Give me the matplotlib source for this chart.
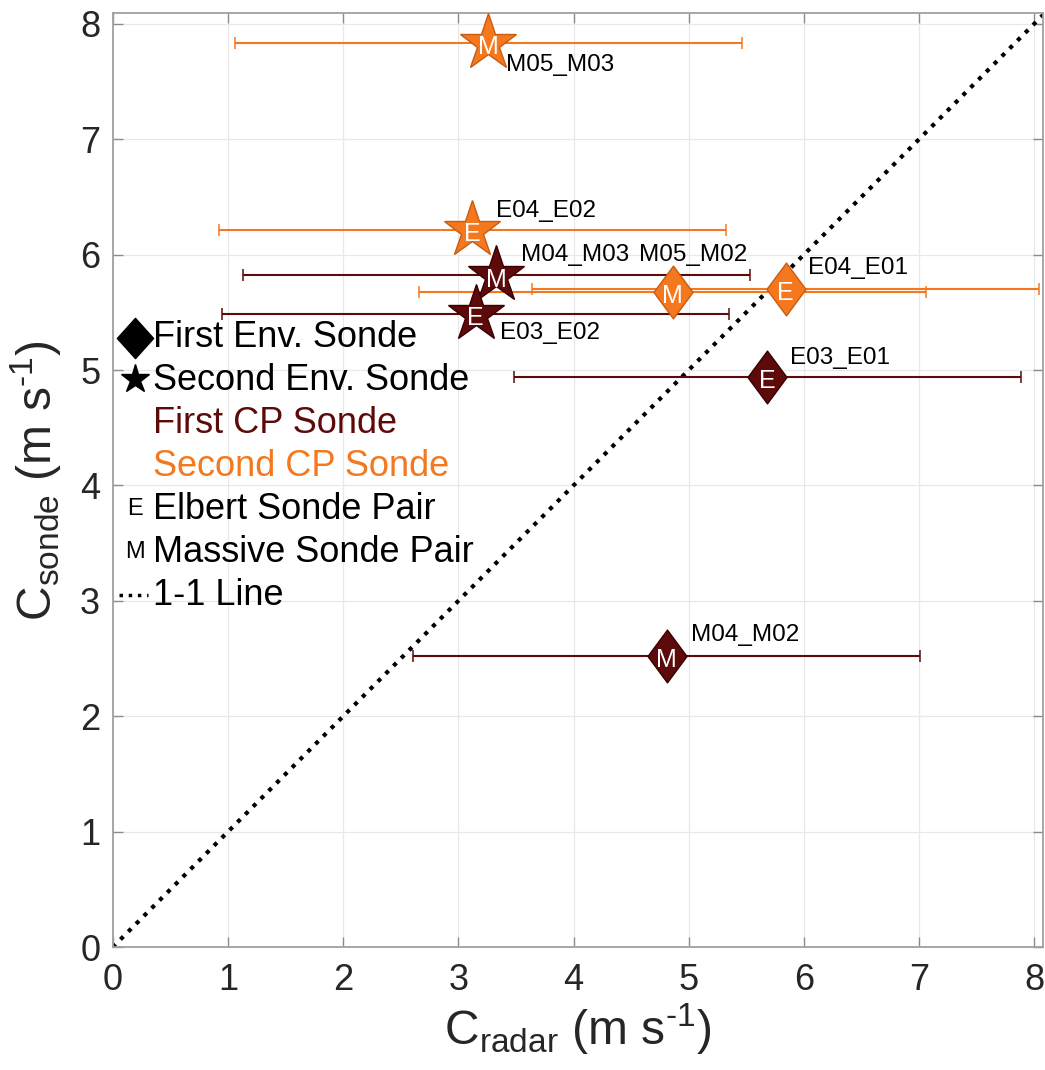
import numpy as np
import matplotlib.pyplot as plt
from matplotlib.path import Path

plt.rcParams['font.family'] = ['Liberation Sans', 'DejaVu Sans']
plt.rcParams['mathtext.fontset'] = 'custom'
plt.rcParams['mathtext.rm'] = 'Liberation Sans'
plt.rcParams['mathtext.it'] = 'Liberation Sans:italic'

# Sonde pair comparisons (CP sonde _ environment sonde)
pairs = ['M05_M03', 'E04_E02', 'M04_M03', 'M05_M02',
         'E04_E01', 'E03_E02', 'E03_E01', 'M04_M02']
c_radar = [3.26, 3.12, 3.33, 4.86, 5.84, 3.15, 5.68, 4.81]
c_sonde = [7.83, 6.21, 5.82, 5.68, 5.70, 5.485, 4.94, 2.527]
radar_err = [2.2, 2.2, 2.2, 2.2, 2.2, 2.2, 2.2, 2.2]
cp_sonde = ['second', 'second', 'first', 'second',
            'second', 'first', 'first', 'first']
env_sonde = ['second', 'second', 'second', 'first',
             'first', 'second', 'first', 'first']
site = ['M', 'E', 'M', 'M', 'E', 'E', 'E', 'M']

# label offsets from each point (data units)
label_dx = [0.155, 0.205, 0.215, -0.29, 0.196, 0.21, 0.20, 0.21]
label_dy = [-0.185, 0.164, 0.18, 0.32, 0.18, -0.165, 0.162, 0.18]

dark_red = '#5c0a0a'
orange = '#f5781e'
cp_color = {'first': dark_red, 'second': orange}
cp_edge = {'first': '#3a0000', 'second': '#c65d12'}

diamond = Path([(0, 1), (0.74, 0), (0, -1), (-0.74, 0), (0, 1)],
               [Path.MOVETO, Path.LINETO, Path.LINETO, Path.LINETO, Path.CLOSEPOLY])
legend_diamond = Path([(0, 1), (0.9, 0), (0, -1), (-0.9, 0), (0, 1)],
                      [Path.MOVETO, Path.LINETO, Path.LINETO, Path.LINETO, Path.CLOSEPOLY])
env_marker = {'first': (diamond, 38), 'second': ('*', 43)}

fig = plt.figure(figsize=(10.45, 10.7), dpi=100)
ax = fig.add_axes([0.1078, 0.1147, 0.8903, 0.8729])

ax.plot([0, 9], [0, 9], color='black', ls=':', lw=3, zorder=2)

for i in range(len(pairs)):
    col = cp_color[cp_sonde[i]]
    ax.errorbar(c_radar[i], c_sonde[i], xerr=radar_err[i], fmt='none',
                ecolor=col, elinewidth=1.5, capsize=4.5, capthick=1.1, zorder=3)
for i in range(len(pairs)):
    col = cp_color[cp_sonde[i]]
    mk, ms = env_marker[env_sonde[i]]
    ax.plot(c_radar[i], c_sonde[i], marker=mk, ms=ms, color=col,
            mec=cp_edge[cp_sonde[i]], mew=1, ls='none', zorder=4)
    ax.annotate(site[i], (c_radar[i], c_sonde[i]), xytext=(0, -3),
                textcoords='offset points', ha='center', va='center',
                color='white', fontsize=18, zorder=5)
    ax.text(c_radar[i] + label_dx[i], c_sonde[i] + label_dy[i], pairs[i],
            ha='left', va='center', fontsize=17.5, color='black', zorder=5)

# legend drawn by hand in axes coordinates
lx_mark, lx_text = 0.024, 0.0436
rows = 0.6524 - 0.0459 * np.arange(7)
tr = ax.transAxes
ax.plot(lx_mark, rows[0], marker=legend_diamond, ms=29, color='black',
        transform=tr, clip_on=False, zorder=6)
ax.plot(lx_mark, rows[1] + 0.002, marker='*', ms=21, color='black',
        transform=tr, clip_on=False, zorder=6)
ax.text(lx_mark, rows[4], 'E', transform=tr, ha='center', va='center', fontsize=17)
ax.text(lx_mark, rows[5], 'M', transform=tr, ha='center', va='center', fontsize=17)
ax.plot([0.0068, 0.038], [rows[6], rows[6]], color='black', ls=':', lw=2.5,
        transform=tr, zorder=6)
legend_labels = ['First Env. Sonde', 'Second Env. Sonde', 'First CP Sonde',
                 'Second CP Sonde', 'Elbert Sonde Pair', 'Massive Sonde Pair', '1-1 Line']
legend_colors = ['black', 'black', dark_red, orange, 'black', 'black', 'black']
for lab, col, yy in zip(legend_labels, legend_colors, rows):
    ax.text(lx_text, yy, lab, transform=tr, ha='left', va='center',
            fontsize=26, color=col, zorder=6)

ax.set_xlim(0, 8.075)
ax.set_ylim(0, 8.09)
ax.set_xticks(np.arange(0, 9))
ax.set_yticks(np.arange(0, 9))
ax.grid(True, color='#e8e8e8', lw=0.9)
ax.set_axisbelow(True)
ax.tick_params(direction='in', length=7, width=1, color='#8c8c8c',
               top=True, right=True, labelsize=26, labelcolor='#262626')
ax.tick_params(axis='x', pad=11)
ax.tick_params(axis='y', pad=9)
for sp in ax.spines.values():
    sp.set_color('#a0a0a0')
    sp.set_linewidth(1.3)

ax.set_xlabel(r'C$_{\mathrm{radar}}$ (m s$^{\text{-}1}$)', fontsize=34.5, color='#262626')
ax.set_ylabel(r'C$_{\mathrm{sonde}}$ (m s$^{\text{-}1}$)', fontsize=34.5, color='#262626')
ax.xaxis.set_label_coords(0.5, -0.058)
ax.yaxis.set_label_coords(-0.052, 0.5)

fig.savefig('out.png', dpi=100)
